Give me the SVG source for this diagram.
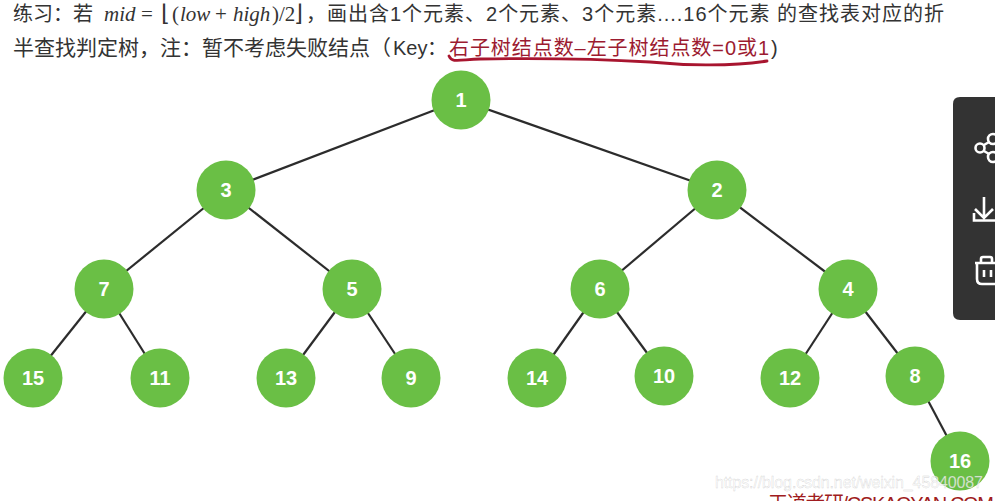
<svg xmlns="http://www.w3.org/2000/svg" width="995" height="501" viewBox="0 0 995 501">
<style>
.t{font-family:"Liberation Sans","Noto Sans CJK SC",sans-serif;font-size:20px;fill:#333}
.m{font-family:"Liberation Serif",serif;font-size:21px;fill:#333}
.mi{font-style:italic}
.b{font-family:"DejaVu Sans",sans-serif;font-size:23px;fill:#333}
.r{font-family:"Liberation Sans","Noto Sans CJK SC",sans-serif;font-size:20px;fill:#9c1b30}
.n circle{fill:#6abf45}
.n text{font-family:"Liberation Sans",sans-serif;font-size:20px;font-weight:bold;fill:#fff;text-anchor:middle}
#connectors line{stroke:#2c2c2c;stroke-width:2.2}
.i{fill:none;stroke:#fff;stroke-width:2.6}
</style>
<rect width="995" height="501" fill="#fff"/>
<text class="t" x="13" y="20.500">练习：若</text>
<text class="m mi" x="104" y="20.500">mid</text>
<text class="m" x="141" y="20.500">=</text>
<text class="b" x="161" y="21">⌊</text>
<text class="m" x="172" y="20.500">(</text>
<text class="m mi" x="180" y="20.500">low</text>
<text class="m" x="215" y="20.500">+</text>
<text class="m mi" x="233" y="20.500">high</text>
<text class="m" x="272" y="20.500">)/2</text>
<text class="b" x="294" y="21">⌋</text>
<text class="t" x="306" y="20.500" textLength="638" lengthAdjust="spacing">，画出含1个元素、2个元素、3个元素....16个元素 的查找表对应的折</text>
<text class="t" x="13" y="55" style="font-size:21px">半查找判定树，注：暂不考虑失败结点（</text>
<text class="t" x="393" y="55">Key</text>
<text class="t" x="427" y="55">：</text>
<text class="r" x="449" y="55" textLength="320" lengthAdjust="spacing">右子树结点数–左子树结点数=0或1</text>
<text class="t" x="771" y="55">)</text>
<path d="M449 56C452 63 458 60 480 59C540 58 600 59 650 62C680 65 730 67 767 61" fill="none" stroke="#a8152f" stroke-width="2.8" stroke-linecap="round"/>
<g id="connectors">
<line x1="461" y1="100" x2="226" y2="190"/><line x1="461" y1="100" x2="717" y2="190"/>
<line x1="226" y1="190" x2="104" y2="289"/><line x1="226" y1="190" x2="352" y2="289"/>
<line x1="717" y1="190" x2="600" y2="289"/><line x1="717" y1="190" x2="848" y2="289"/>
<line x1="104" y1="289" x2="33" y2="378"/><line x1="104" y1="289" x2="160" y2="378"/>
<line x1="352" y1="289" x2="286" y2="378"/><line x1="352" y1="289" x2="411" y2="378"/>
<line x1="600" y1="289" x2="537" y2="378"/><line x1="600" y1="289" x2="664" y2="376"/>
<line x1="848" y1="289" x2="790" y2="378"/><line x1="848" y1="289" x2="915" y2="376"/>
<line x1="915" y1="376" x2="960" y2="461"/>
</g>
<g id="n1" class="n"><circle cx="461" cy="100" r="29.500"/><text x="461" y="107">1</text></g>
<g id="n3" class="n"><circle cx="226" cy="190" r="29.500"/><text x="226" y="197">3</text></g>
<g id="n2" class="n"><circle cx="717" cy="190" r="29.500"/><text x="717" y="197">2</text></g>
<g id="n7" class="n"><circle cx="104" cy="289" r="29.500"/><text x="104" y="296">7</text></g>
<g id="n5" class="n"><circle cx="352" cy="289" r="29.500"/><text x="352" y="296">5</text></g>
<g id="n6" class="n"><circle cx="600" cy="289" r="29.500"/><text x="600" y="296">6</text></g>
<g id="n4" class="n"><circle cx="848" cy="289" r="29.500"/><text x="848" y="296">4</text></g>
<g id="n15" class="n"><circle cx="33" cy="378" r="29.500"/><text x="33" y="385">15</text></g>
<g id="n11" class="n"><circle cx="160" cy="378" r="29.500"/><text x="160" y="385">11</text></g>
<g id="n13" class="n"><circle cx="286" cy="378" r="29.500"/><text x="286" y="385">13</text></g>
<g id="n9" class="n"><circle cx="411" cy="378" r="29.500"/><text x="411" y="385">9</text></g>
<g id="n14" class="n"><circle cx="537" cy="378" r="29.500"/><text x="537" y="385">14</text></g>
<g id="n10" class="n"><circle cx="664" cy="376" r="29.500"/><text x="664" y="383">10</text></g>
<g id="n12" class="n"><circle cx="790" cy="378" r="29.500"/><text x="790" y="385">12</text></g>
<g id="n8" class="n"><circle cx="915" cy="376" r="29.500"/><text x="915" y="383">8</text></g>
<g id="n16" class="n"><circle cx="960" cy="461" r="29.500"/><text x="960" y="468">16</text></g>
<text x="715" y="488" textLength="268" font-family="Liberation Sans,sans-serif" font-size="16" fill="#fff" fill-opacity=".75" stroke="#999" stroke-opacity=".45" stroke-width=".4">https://blog.csdn.net/weixin_45840087</text>
<text x="768" y="511" textLength="226" font-family="Liberation Sans,Noto Sans CJK SC,sans-serif" font-size="20" fill="#a01c20">王道考研/CSKAOYAN.COM</text>
<g id="toolbar">
<path d="M995 97H960Q953 97 953 104V313Q953 320 960 320H995Z" fill="#333"/>
<circle class="i" cx="980" cy="148" r="4.500"/><circle class="i" cx="993" cy="139" r="5"/><circle class="i" cx="993" cy="157" r="5"/>
<path class="i" d="M984 145L989 142M984 151L989 154"/>
<path class="i" d="M984 197V217M975 209L984 218L993 209M974 213V220.500H995"/>
<path class="i" d="M975 263H995M981 263V259Q981 257 983 257H990Q992 257 992 259V263M977 263V279Q977 284 982 284H995M984 270V277M991 270V277"/>
</g>
</svg>
